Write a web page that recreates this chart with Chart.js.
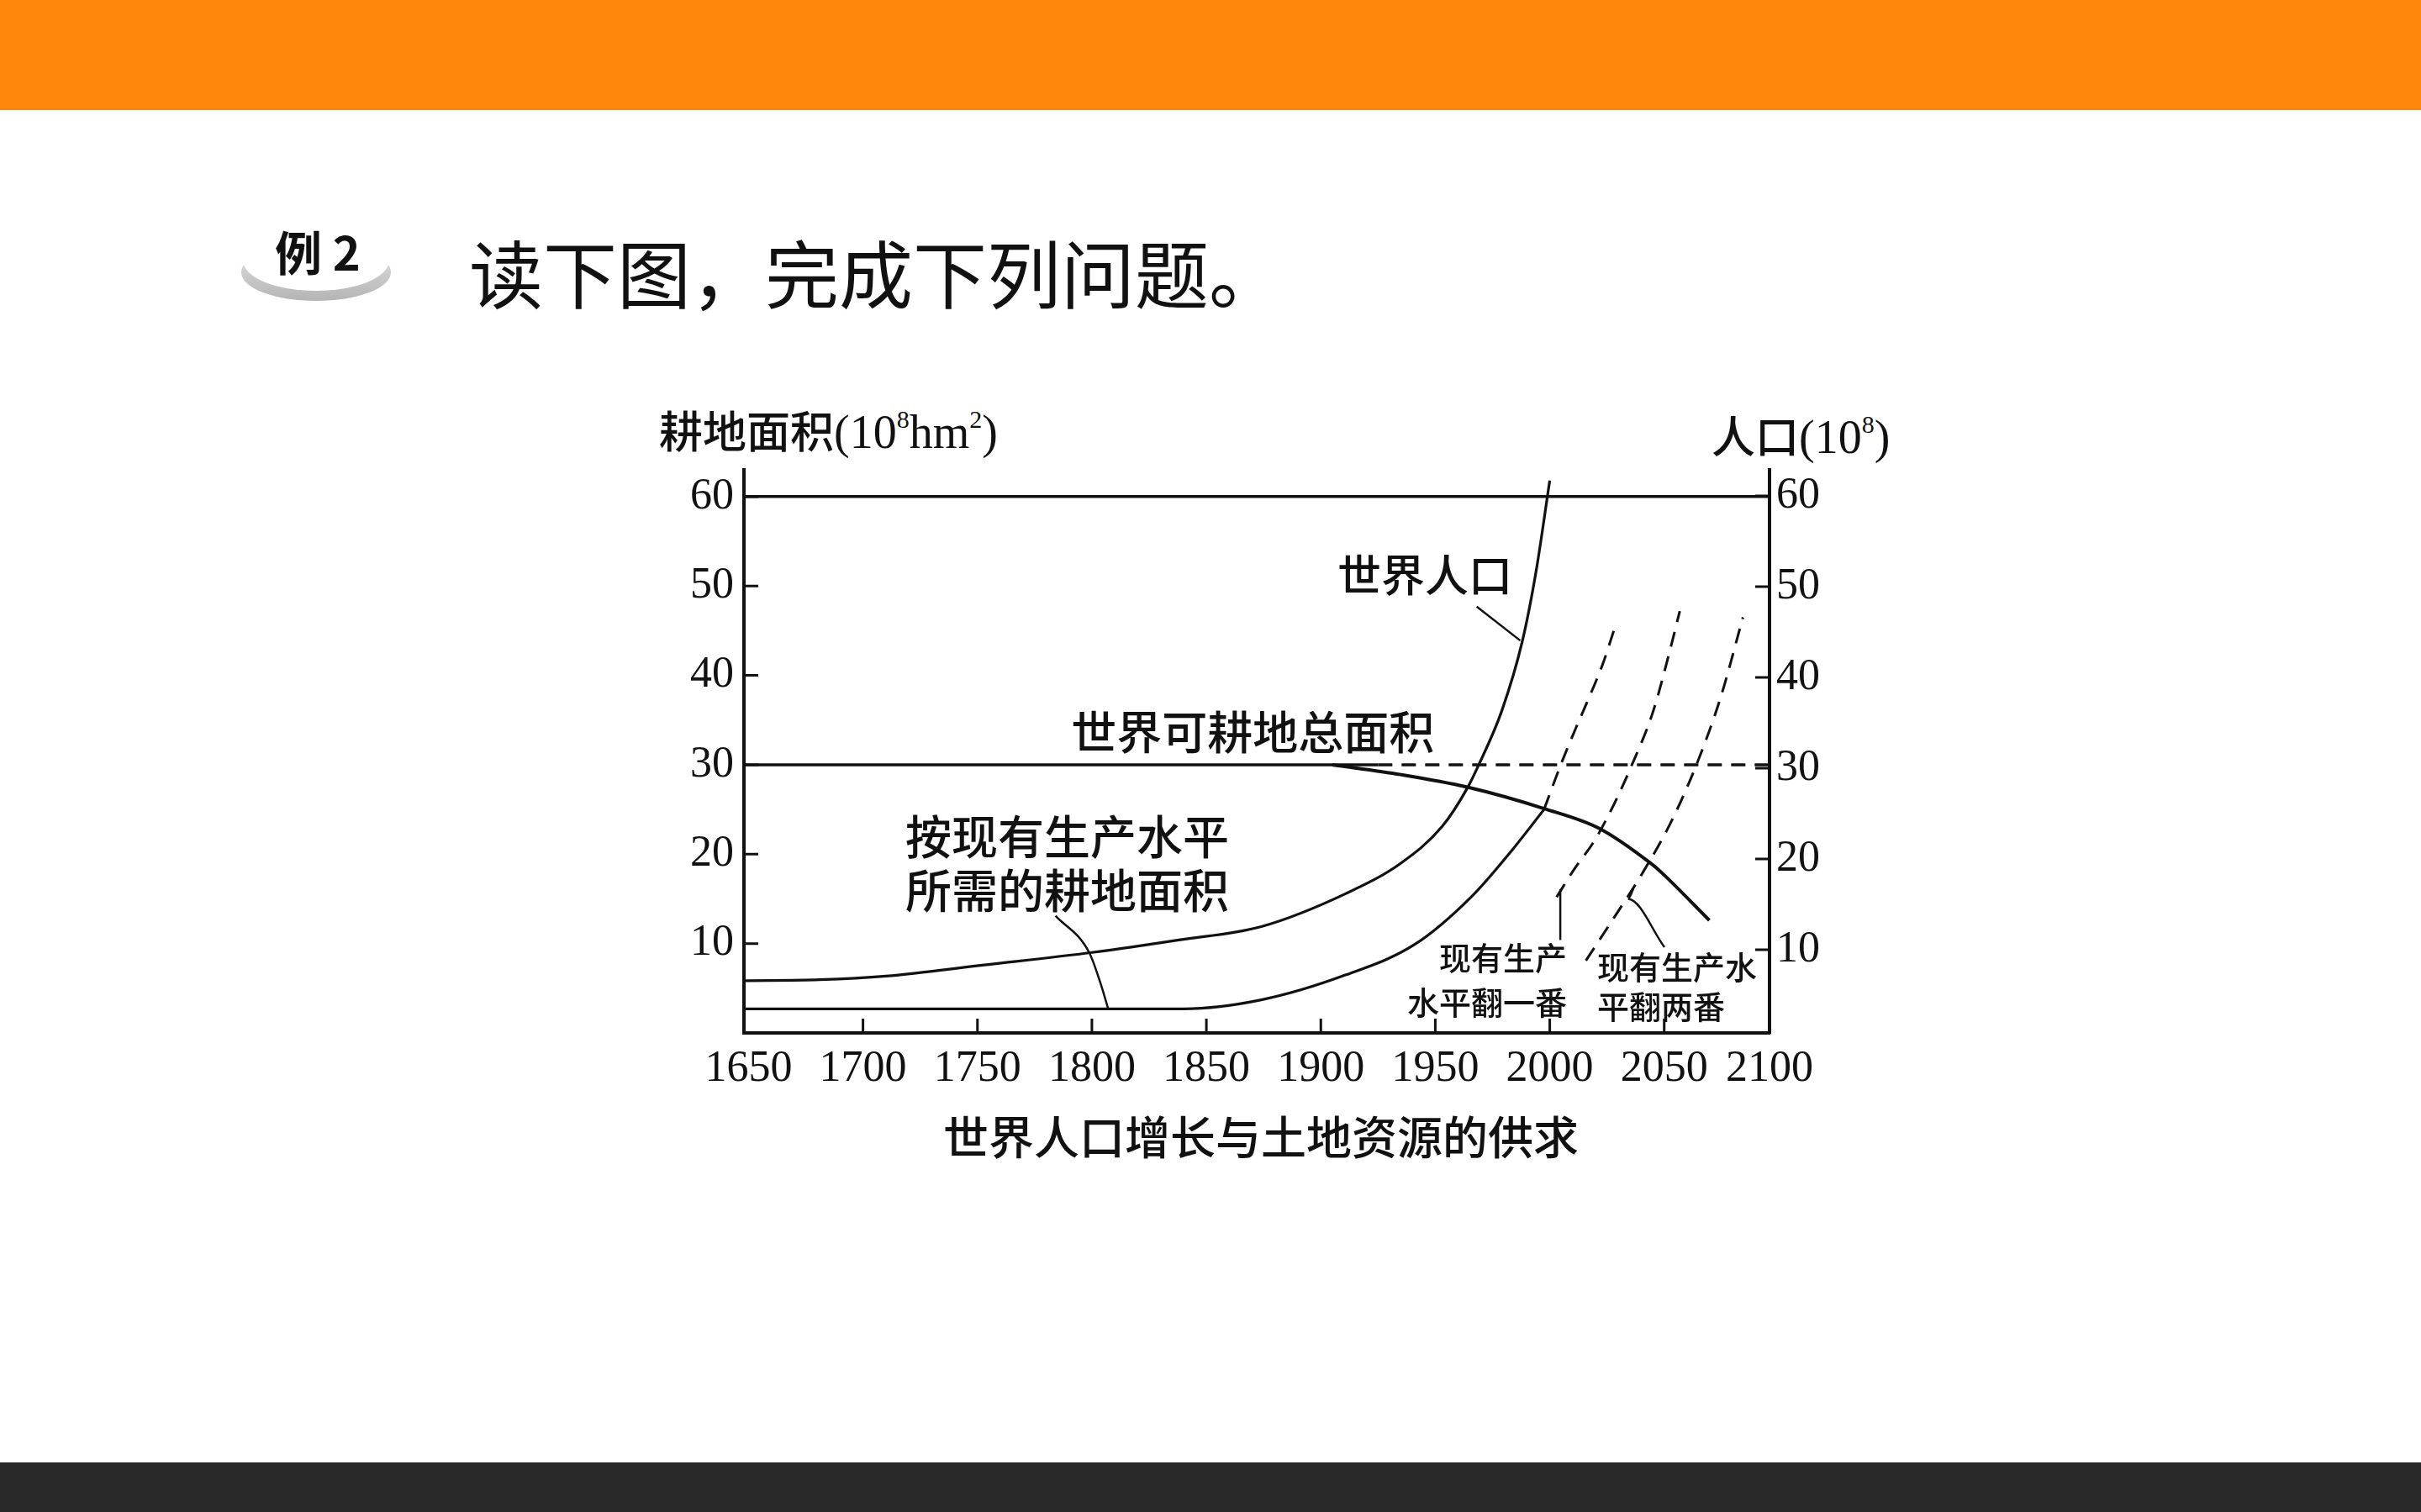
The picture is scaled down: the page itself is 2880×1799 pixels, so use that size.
<!DOCTYPE html>
<html>
<head>
<meta charset="utf-8">
<script src="https://cdn.jsdelivr.net/npm/chart.js@4.4.1/dist/chart.umd.min.js"></script>
<style>
  body { margin: 0; width: 2880px; height: 1799px; position: relative; overflow: hidden; background: #fff; color: #111; }
  .bar-top { position: absolute; left: 0; top: 0; width: 2880px; height: 131px; background: #ff870a; }
  .bar-bottom { position: absolute; left: 0; top: 1740px; width: 2880px; height: 59px; background: #292929; }
  .badge-shadow { position: absolute; left: 287px; top: 290px; width: 178px; height: 68px; border-radius: 50%; background: linear-gradient(#e6e6e6, #b4b4b4); }
  .badge-face { position: absolute; left: 289px; top: 274px; width: 174px; height: 72px; border-radius: 50%; background: #fff; }
  .badge-text { position: absolute; left: 327px; top: 270px; font: bold 56px "Noto Sans CJK SC"; line-height: 1; }
  .question { position: absolute; left: 558px; top: 278px; font: 88px "Noto Sans CJK SC"; line-height: 1; }
  .axis-title { position: absolute; font: 56px "Liberation Serif", "Noto Sans CJK SC"; line-height: 1; white-space: nowrap; }
  .axis-title .cjk { font: 500 52px "Noto Sans CJK SC"; }
  .axis-title sup { font-size: 30px; vertical-align: 24px; line-height: 0; }
  .caption { position: absolute; left: 1122px; top: 1324px; font: 500 54px "Noto Sans CJK SC"; line-height: 1; }
  #chart { position: absolute; left: 0; top: 0; }
</style>
</head>
<body>
<div class="bar-top"></div>
<div class="bar-bottom"></div>
<div class="badge-shadow"></div>
<div class="badge-face"></div>
<div class="badge-text">例 2</div>
<div class="question">读下图，完成下列问题。</div>
<div class="axis-title" style="left:784px; top:473px;"><span class="cjk">耕地面积</span>(10<sup>8</sup>hm<sup>2</sup>)</div>
<div class="axis-title" style="left:2036px; top:479px;"><span class="cjk">人口</span>(10<sup>8</sup>)</div>
<div class="caption">世界人口增长与土地资源的供求</div>
<canvas id="chart" width="2880" height="1799"></canvas>
<script>
// axis ticks
const xTickValues = [1650, 1700, 1750, 1800, 1850, 1900, 1950, 2000, 2050, 2100];
const yTickValues = [10, 20, 30, 40, 50, 60];

// world arable land total (10^8 hm2): flat 30, then declining
const arableFlatYears = [1648, 1925];
const arableFlatValues = [30, 30];
const arableFutureYears = [1925, 2096];
const arableFutureValues = [30, 30];
const declineYears = [1905, 1935, 1964, 1997.5, 2021.5, 2044, 2049, 2069.7];
const declineValues = [30, 28.9, 27.5, 25.1, 22.9, 19.0, 17.9, 12.6];

// world population (10^8)
const popYears = [1648, 1681, 1710, 1753, 1800, 1838, 1874, 1911, 1935, 1953, 1964, 1969, 1979, 1988, 1994, 2000];
const popValues = [5.85, 5.95, 6.35, 7.6, 9.0, 10.4, 11.9, 15.6, 19.0, 23.1, 27.4, 30.0, 36.0, 43.8, 51.6, 61.8];

// arable land needed at current productivity
const needYears = [1648, 1840, 1874, 1911, 1941, 1966, 1984, 1997.5];
const needValues = [2.7, 2.7, 3.7, 6.5, 9.9, 15.3, 20.6, 25.0];
const needFutureYears = [1997.5, 2004.8, 2010.9, 2018.3, 2023.2, 2028.1];
const needFutureValues = [25.0, 30.0, 33.8, 38.2, 41.3, 45.1];

// needed if productivity doubles / quadruples
const doubleYears = [2003, 2010.9, 2019.5, 2028.1, 2035.4, 2045.2, 2052.6, 2056.8];
const doubleValues = [15.2, 18.4, 21.5, 25.6, 29.7, 36.0, 42.9, 47.2];
const quadYears = [2015.8, 2026.8, 2040.3, 2052.6, 2063.6, 2074.6, 2084.4];
const quadValues = [8.1, 12.4, 17.8, 23.4, 29.7, 37.5, 46.5];

// leader lines from the labels to the curves
const popLeaderYears = [1968.1, 1987.1];
const popLeaderValues = [47.7, 43.9];
const needLeaderYears = [1784.1, 1798.8, 1803.7, 1807.0];
const needLeaderValues = [13.1, 9.0, 5.6, 2.8];
const doubleLeaderYears = [2004.6, 2004.6];
const doubleLeaderValues = [10.4, 16.1];
const quadLeaderYears = [2050.1, 2034.2, 2036.5];
const quadLeaderValues = [9.6, 15.0, 16.1];

const ink = '#111';

const notes = [
  { text: '世界人口', x: 1945.4, y: 51.2, size: 52, align: 'center' },
  { text: '世界可耕地总面积', x: 1870.3, y: 33.6, size: 54, align: 'center' },
  { text: '按现有生产水平', x: 1718.5, y: 21.95, size: 55, align: 'left' },
  { text: '所需的耕地面积', x: 1718.5, y: 16.0, size: 55, align: 'left' },
  { text: '现有生产', x: 2007.5, y: 8.4, size: 38, align: 'right' },
  { text: '水平翻一番', x: 2007.5, y: 3.4, size: 38, align: 'right' },
  { text: '现有生产水', x: 2020.7, y: 7.4, size: 38, align: 'left' },
  { text: '平翻两番', x: 2020.7, y: 3.0, size: 38, align: 'left' }
];

function series(xs, ys) {
  return xs.map((x, i) => ({ x: x, y: ys[i] }));
}

function curve(xs, ys, width, dash) {
  return {
    data: series(xs, ys),
    borderColor: ink,
    borderWidth: width,
    borderDash: dash || [],
    pointRadius: 0,
    fill: false,
    cubicInterpolationMode: 'monotone'
  };
}

// tick marks point into the plot, so draw them ourselves
const innerTicks = {
  id: 'innerTicks',
  afterDatasetsDraw(chart) {
    const { ctx, chartArea: a, scales } = chart;
    const len = 17;
    ctx.save();
    ctx.strokeStyle = ink;
    ctx.lineWidth = 3;
    ctx.beginPath();
    yTickValues.forEach(v => {
      const p = scales.y.getPixelForValue(v);
      ctx.moveTo(a.left, p);
      ctx.lineTo(a.left + len, p);
      const q = scales.y2.getPixelForValue(v);
      ctx.moveTo(a.right, q);
      ctx.lineTo(a.right - len, q);
    });
    xTickValues.forEach(v => {
      if (v <= scales.x.min + 5 || v >= scales.x.max - 5) return;
      const p = scales.x.getPixelForValue(v);
      ctx.moveTo(p, a.bottom);
      ctx.lineTo(p, a.bottom - len);
    });
    ctx.stroke();

    ctx.fillStyle = ink;
    ctx.textBaseline = 'middle';
    notes.forEach(n => {
      ctx.font = '500 ' + n.size + 'px "Noto Sans CJK SC"';
      ctx.textAlign = n.align;
      ctx.fillText(n.text, scales.x.getPixelForValue(n.x), scales.y.getPixelForValue(n.y));
    });
    ctx.restore();
  }
};

const tickFont = { family: 'Liberation Serif', size: 52 };

new Chart(document.getElementById('chart'), {
  type: 'line',
  data: {
    datasets: [
      curve(arableFlatYears, arableFlatValues, 3.5),
      curve(arableFutureYears, arableFutureValues, 3.5, [17, 11]),
      curve(declineYears, declineValues, 4),
      curve(popYears, popValues, 3.2),
      curve(needYears, needValues, 3.2),
      curve(needFutureYears, needFutureValues, 3, [18, 12]),
      curve(doubleYears, doubleValues, 3, [18, 12]),
      curve(quadYears, quadValues, 3, [18, 12]),
      curve(popLeaderYears, popLeaderValues, 2.5),
      curve(needLeaderYears, needLeaderValues, 2.5),
      curve(doubleLeaderYears, doubleLeaderValues, 2.5),
      curve(quadLeaderYears, quadLeaderValues, 2.5)
    ]
  },
  options: {
    responsive: false,
    devicePixelRatio: 1,
    animation: false,
    layout: { padding: { left: 805, right: 695, top: 559, bottom: 500 } },
    plugins: { legend: { display: false }, tooltip: { enabled: false } },
    scales: {
      x: {
        type: 'linear',
        min: 1648,
        max: 2096,
        // the end labels sit on the plot edges
        afterBuildTicks: s => { s.ticks = xTickValues.map(v => ({ value: Math.min(Math.max(v, s.min), s.max) })); },
        afterFit: s => { s.height = 70; },
        grid: { display: false, drawTicks: false },
        border: { display: true, color: ink, width: 4 },
        ticks: { autoSkip: false, maxRotation: 0, padding: 12, color: ink, font: tickFont, callback: (v, i) => String(xTickValues[i]) }
      },
      y: {
        type: 'linear',
        position: 'left',
        min: 0,
        max: 63,
        afterBuildTicks: s => { s.ticks = yTickValues.map(v => ({ value: v })); },
        afterFit: s => { s.width = 80; },
        grid: {
          drawTicks: false,
          color: c => (c.tick && c.tick.value === 60 ? ink : 'rgba(0,0,0,0)'),
          lineWidth: 3.5
        },
        border: { display: true, color: ink, width: 4 },
        ticks: { padding: 12, color: ink, font: tickFont }
      },
      y2: {
        type: 'linear',
        position: 'right',
        min: 0.83,
        max: 62.87,
        afterBuildTicks: s => { s.ticks = yTickValues.map(v => ({ value: v })); },
        afterFit: s => { s.width = 80; },
        grid: { display: false, drawTicks: false },
        border: { display: true, color: ink, width: 4 },
        ticks: { padding: 8, color: ink, font: tickFont }
      }
    }
  },
  plugins: [innerTicks]
});
</script>
</body>
</html>
